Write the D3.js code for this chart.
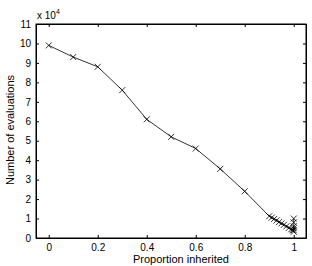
<!DOCTYPE html>
<html>
<head>
<meta charset="utf-8">
<script src="https://cdn.jsdelivr.net/npm/d3@7"></script>
<style>
body { margin: 0; background: #fff; }
text { font-family: "Liberation Sans", Arial, sans-serif; }
</style>
</head>
<body>
<div id="chart"></div>
<script>
// data (evaluations in units of 1e4)
var proportion = [0, 0.1, 0.2, 0.3, 0.4, 0.5, 0.6, 0.7, 0.8, 0.9,
                  0.91, 0.92, 0.93, 0.94, 0.95, 0.96, 0.97, 0.98, 0.99, 0.995,
                  1, 1, 1, 1, 1, 1];
var evaluations = [9.9, 9.3, 8.8, 7.6, 6.1, 5.2, 4.6, 3.55, 2.4, 1.12,
                   1.05, 0.98, 0.9, 0.82, 0.75, 0.68, 0.6, 0.52, 0.45, 0.4,
                   0.32, 0.5, 0.4, 0.6, 0.8, 1.0];
var xTicks = [0, 0.2, 0.4, 0.6, 0.8, 1];
var yTicks = [0, 1, 2, 3, 4, 5, 6, 7, 8, 9, 10, 11];

var W = 312, H = 266;
var mLeft = 36, mRight = 306, mTop = 24, mBottom = 238;

var svg = d3.select("#chart").append("svg")
  .attr("width", W).attr("height", H);

var x = d3.scaleLinear().domain([-0.052, 1.05]).range([mLeft, mRight]);
var y = d3.scaleLinear().domain([0, 11]).range([mBottom, mTop]);

// axes (ticks inside, on all sides)
svg.append("g").attr("transform", "translate(0," + mBottom + ")")
  .call(d3.axisBottom(x).tickValues(xTicks).tickSizeInner(-3).tickSizeOuter(0).tickPadding(6)
    .tickFormat(function(d){ return d; }));
svg.append("g").attr("transform", "translate(0," + mTop + ")")
  .call(d3.axisTop(x).tickValues(xTicks).tickSizeInner(-3).tickSizeOuter(0).tickFormat(""));
svg.append("g").attr("transform", "translate(" + mLeft + ",0)")
  .call(d3.axisLeft(y).tickValues(yTicks).tickSizeInner(-3).tickSizeOuter(0).tickPadding(5));
svg.append("g").attr("transform", "translate(" + mRight + ",0)")
  .call(d3.axisRight(y).tickValues(yTicks).tickSizeInner(-3).tickSizeOuter(0).tickFormat(""));

svg.selectAll(".domain").attr("stroke", "#000");
svg.selectAll(".tick line").attr("stroke", "#000");
svg.selectAll(".tick text").attr("font-size", 10).attr("fill", "#000")
  .style("font-family", "Liberation Sans, Arial, sans-serif");

// box
svg.append("rect").attr("x", mLeft).attr("y", mTop)
  .attr("width", mRight - mLeft).attr("height", mBottom - mTop)
  .attr("fill", "none").attr("stroke", "#000");

// exponent label
var ex = svg.append("text").attr("x", mLeft + 1).attr("y", 19).attr("font-size", 10);
ex.append("tspan").text("x 10");
ex.append("tspan").attr("dy", -5).attr("font-size", 7).text("4");

// line
var pts = proportion.map(function(p, i){ return [p, evaluations[i]]; });
svg.append("path").datum(pts)
  .attr("fill", "none").attr("stroke", "#000").attr("stroke-width", 0.8)
  .attr("d", d3.line().x(function(d){ return x(d[0]); }).y(function(d){ return y(d[1]); }));

// cross markers
var s = 3;
svg.append("g").selectAll("path.m").data(pts).enter().append("path")
  .attr("fill", "none").attr("stroke", "#000").attr("stroke-width", 0.8)
  .attr("d", function(d){
    var cx = x(d[0]), cy = y(d[1]);
    return "M" + (cx - s) + "," + (cy - s) + "L" + (cx + s) + "," + (cy + s) +
           "M" + (cx - s) + "," + (cy + s) + "L" + (cx + s) + "," + (cy - s);
  });

// axis titles
svg.append("text").attr("x", 181).attr("y", 263)
  .attr("text-anchor", "middle").attr("font-size", 11).text("Proportion inherited");
svg.append("text").attr("transform", "translate(14,130) rotate(-90)")
  .attr("text-anchor", "middle").attr("font-size", 11).text("Number of evaluations");
</script>
</body>
</html>
